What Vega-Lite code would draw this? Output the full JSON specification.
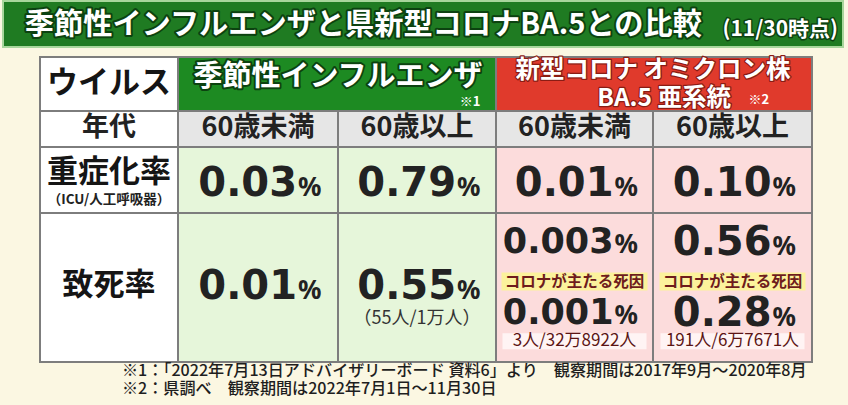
{
  "$schema": "https://vega.github.io/schema/vega-lite/v6.json",
  "width": 848,
  "height": 405,
  "autosize": "none",
  "padding": 0,
  "background": "#fbf7e2",
  "view": {"stroke": null},
  "datasets": {
    "cells": [
      {"k": "title", "x": 0, "x2": 7, "y": 0, "y2": 1},
      {"k": "label", "x": 1, "x2": 2, "y": 2, "y2": 3},
      {"k": "flu", "x": 2, "x2": 4, "y": 2, "y2": 3},
      {"k": "covid", "x": 4, "x2": 6, "y": 2, "y2": 3},
      {"k": "label", "x": 1, "x2": 2, "y": 3, "y2": 4},
      {"k": "age", "x": 2, "x2": 3, "y": 3, "y2": 4},
      {"k": "age", "x": 3, "x2": 4, "y": 3, "y2": 4},
      {"k": "age", "x": 4, "x2": 5, "y": 3, "y2": 4},
      {"k": "age", "x": 5, "x2": 6, "y": 3, "y2": 4},
      {"k": "label", "x": 1, "x2": 2, "y": 4, "y2": 5},
      {"k": "fluCell", "x": 2, "x2": 3, "y": 4, "y2": 5},
      {"k": "fluCell", "x": 3, "x2": 4, "y": 4, "y2": 5},
      {"k": "covidCell", "x": 4, "x2": 5, "y": 4, "y2": 5},
      {"k": "covidCell", "x": 5, "x2": 6, "y": 4, "y2": 5},
      {"k": "label", "x": 1, "x2": 2, "y": 5, "y2": 6},
      {"k": "fluCell", "x": 2, "x2": 3, "y": 5, "y2": 6},
      {"k": "fluCell", "x": 3, "x2": 4, "y": 5, "y2": 6},
      {"k": "covidCell", "x": 4, "x2": 5, "y": 5, "y2": 6},
      {"k": "covidCell", "x": 5, "x2": 6, "y": 5, "y2": 6}
    ],
    "texts": [
      {"s": "title", "t": "季節性インフルエンザと県新型コロナBA.5との比較", "x": 0.59, "y": 0.53},
      {"s": "tsub", "t": "(11/30時点)", "x": 6.84, "y": 0.62},
      {"s": "hg", "t": "季節性インフルエンザ", "x": 3, "y": 2.37},
      {"s": "hr", "t": "新型コロナ オミクロン株", "x": 5, "y": 2.25},
      {"s": "hr", "t": "BA.5 亜系統", "x": 5.07, "y": 2.77},
      {"s": "mk", "t": "※1", "x": 3.77, "y": 2.84},
      {"s": "mk", "t": "※2", "x": 5.6, "y": 2.8},
      {"s": "lb", "t": "ウイルス", "x": 1.5, "y": 2.5},
      {"s": "lb", "t": "重症化率", "x": 1.5, "y": 4.39},
      {"s": "lb", "t": "致死率", "x": 1.5, "y": 5.49},
      {"s": "ag", "t": "年代", "x": 1.5, "y": 3.47},
      {"s": "ag", "t": "60歳未満", "x": 2.5, "y": 3.47},
      {"s": "ag", "t": "60歳以上", "x": 3.5, "y": 3.47},
      {"s": "ag", "t": "60歳未満", "x": 4.5, "y": 3.47},
      {"s": "ag", "t": "60歳以上", "x": 5.5, "y": 3.47},
      {"s": "sub", "t": "（ICU/人工呼吸器）", "x": 1.5, "y": 4.8},
      {"s": "note", "t": "（55人/1万人）", "x": 3.5, "y": 5.71},
      {"s": "cause", "t": "コロナが主たる死因", "x": 4.5, "y": 5.46},
      {"s": "cause", "t": "コロナが主たる死因", "x": 5.5, "y": 5.46},
      {"s": "cnt", "t": "3人/32万8922人", "x": 4.5, "y": 5.86},
      {"s": "cnt", "t": "191人/6万7671人", "x": 5.5, "y": 5.86},
      {"s": "foot", "t": "※1：「2022年7月13日アドバイザリーボード 資料6」より　観察期間は2017年9月～2020年8月", "x": 1.594, "y": 6.21},
      {"s": "foot", "t": "※2：県調べ　観察期間は2022年7月1日～11月30日", "x": 1.594, "y": 6.63}
    ],
    "vals": [
      {"m": "重症化率", "g": "季節性インフルエンザ", "a": "60歳未満", "v": "0.03", "x": 2.5, "y": 4.52},
      {"m": "重症化率", "g": "季節性インフルエンザ", "a": "60歳以上", "v": "0.79", "x": 3.5, "y": 4.52},
      {"m": "重症化率", "g": "新型コロナ", "a": "60歳未満", "v": "0.01", "x": 4.5, "y": 4.52},
      {"m": "重症化率", "g": "新型コロナ", "a": "60歳以上", "v": "0.10", "x": 5.5, "y": 4.52},
      {"m": "致死率", "g": "季節性インフルエンザ", "a": "60歳未満", "v": "0.01", "x": 2.5, "y": 5.48},
      {"m": "致死率", "g": "季節性インフルエンザ", "a": "60歳以上", "v": "0.55", "x": 3.5, "y": 5.48},
      {"m": "致死率", "g": "新型コロナ", "a": "60歳未満", "v": "0.003", "x": 4.5, "y": 5.185},
      {"m": "致死率", "g": "新型コロナ", "a": "60歳以上", "v": "0.56", "x": 5.5, "y": 5.185},
      {"m": "コロナが主たる死因", "g": "新型コロナ", "a": "60歳未満", "v": "0.001", "x": 4.5, "y": 5.66},
      {"m": "コロナが主たる死因", "g": "新型コロナ", "a": "60歳以上", "v": "0.28", "x": 5.5, "y": 5.66}
    ]
  },
  "encoding": {
    "x": {
      "field": "x",
      "type": "quantitative",
      "axis": null,
      "scale": {"domain": [0, 1, 2, 3, 4, 5, 6, 7], "range": [3, 40, 178, 338, 496, 653, 812, 843], "zero": false, "nice": false}
    },
    "y": {
      "field": "y",
      "type": "quantitative",
      "axis": null,
      "scale": {"domain": [0, 1, 2, 3, 4, 5, 6, 7], "range": [1, 47, 57, 111, 147, 213, 362, 405], "zero": false, "nice": false}
    }
  },
  "layer": [
    {
      "data": {"name": "cells"},
      "transform": [{"filter": "datum.k == 'title'"}],
      "mark": {"type": "rect", "fill": "#1f7b22", "stroke": "#a8d69c", "strokeWidth": 2},
      "encoding": {"x2": {"field": "x2"}, "y2": {"field": "y2"}}
    },
    {
      "data": {"name": "cells"},
      "transform": [{"filter": "datum.k != 'title'"}],
      "mark": {"type": "rect", "stroke": "#7d7d7d", "strokeWidth": 2},
      "encoding": {
        "x2": {"field": "x2"},
        "y2": {"field": "y2"},
        "color": {
          "field": "k",
          "type": "nominal",
          "legend": null,
          "scale": {
            "domain": ["label", "flu", "covid", "age", "fluCell", "covidCell"],
            "range": ["#ffffff", "#1d8a22", "#e03a2c", "#e6e6e6", "#e6f6da", "#fcdcdc"]
          }
        }
      }
    },
    {
      "data": {"name": "texts"},
      "transform": [{"filter": "datum.s == 'cause'"}],
      "mark": {"type": "rect", "fill": "#fcf29c", "xOffset": -73, "x2Offset": 73, "yOffset": -9, "y2Offset": 9},
      "encoding": {"x2": {"field": "x"}, "y2": {"field": "y"}}
    },
    {
      "data": {"name": "texts"},
      "transform": [{"filter": "datum.s == 'cnt'"}],
      "mark": {"type": "rect", "fill": "#fff4f4", "xOffset": -72, "x2Offset": 72, "yOffset": -8, "y2Offset": 8},
      "encoding": {"x2": {"field": "x"}, "y2": {"field": "y"}}
    },
    {
      "data": {"name": "texts"},
      "transform": [{"filter": "datum.s == 'title'"}],
      "mark": {"type": "text", "align": "left", "baseline": "middle", "font": "Noto Sans CJK JP", "fontWeight": "bold", "fontSize": 29.2, "fill": "#0c4210", "stroke": "#0c4210", "strokeWidth": 4, "strokeJoin": "round"},
      "encoding": {"text": {"field": "t"}}
    },
    {
      "data": {"name": "texts"},
      "transform": [{"filter": "datum.s == 'title'"}],
      "mark": {"type": "text", "align": "left", "baseline": "middle", "font": "Noto Sans CJK JP", "fontWeight": "bold", "fontSize": 29.2, "fill": "#ffffff"},
      "encoding": {"text": {"field": "t"}}
    },
    {
      "data": {"name": "texts"},
      "transform": [{"filter": "datum.s == 'tsub'"}],
      "mark": {"type": "text", "align": "right", "baseline": "middle", "font": "Noto Sans CJK JP", "fontWeight": "bold", "fontSize": 21, "fill": "#0c4210", "stroke": "#0c4210", "strokeWidth": 3, "strokeJoin": "round"},
      "encoding": {"text": {"field": "t"}}
    },
    {
      "data": {"name": "texts"},
      "transform": [{"filter": "datum.s == 'tsub'"}],
      "mark": {"type": "text", "align": "right", "baseline": "middle", "font": "Noto Sans CJK JP", "fontWeight": "bold", "fontSize": 21, "fill": "#ffffff"},
      "encoding": {"text": {"field": "t"}}
    },
    {
      "data": {"name": "texts"},
      "transform": [{"filter": "datum.s == 'hg'"}],
      "mark": {"type": "text", "align": "center", "baseline": "middle", "font": "Noto Sans CJK JP", "fontWeight": "bold", "fontSize": 29, "fill": "#0c4210", "stroke": "#0c4210", "strokeWidth": 4, "strokeJoin": "round"},
      "encoding": {"text": {"field": "t"}}
    },
    {
      "data": {"name": "texts"},
      "transform": [{"filter": "datum.s == 'hg'"}],
      "mark": {"type": "text", "align": "center", "baseline": "middle", "font": "Noto Sans CJK JP", "fontWeight": "bold", "fontSize": 29, "fill": "#ffffff"},
      "encoding": {"text": {"field": "t"}}
    },
    {
      "data": {"name": "texts"},
      "transform": [{"filter": "datum.s == 'hr'"}],
      "mark": {"type": "text", "align": "center", "baseline": "middle", "font": "Noto Sans CJK JP", "fontWeight": "bold", "fontSize": 24.5, "fill": "#8a1c14", "stroke": "#8a1c14", "strokeWidth": 2.5, "strokeJoin": "round"},
      "encoding": {"text": {"field": "t"}}
    },
    {
      "data": {"name": "texts"},
      "transform": [{"filter": "datum.s == 'hr'"}],
      "mark": {"type": "text", "align": "center", "baseline": "middle", "font": "Noto Sans CJK JP", "fontWeight": "bold", "fontSize": 24.5, "fill": "#ffffff"},
      "encoding": {"text": {"field": "t"}}
    },
    {
      "data": {"name": "texts"},
      "transform": [{"filter": "datum.s == 'mk'"}],
      "mark": {"type": "text", "align": "left", "baseline": "middle", "font": "Noto Sans CJK JP", "fontWeight": "bold", "fontSize": 13, "fill": "#ffffff"},
      "encoding": {"text": {"field": "t"}}
    },
    {
      "data": {"name": "texts"},
      "transform": [{"filter": "datum.s == 'lb'"}],
      "mark": {"type": "text", "align": "center", "baseline": "middle", "font": "Noto Sans CJK JP", "fontWeight": "bold", "fontSize": 31, "fill": "#151515"},
      "encoding": {"text": {"field": "t"}}
    },
    {
      "data": {"name": "texts"},
      "transform": [{"filter": "datum.s == 'ag'"}],
      "mark": {"type": "text", "align": "center", "baseline": "middle", "font": "Noto Sans CJK JP", "fontWeight": "bold", "fontSize": 27, "fill": "#222222"},
      "encoding": {"text": {"field": "t"}}
    },
    {
      "data": {"name": "texts"},
      "transform": [{"filter": "datum.s == 'sub'"}],
      "mark": {"type": "text", "align": "center", "baseline": "middle", "font": "Noto Sans CJK JP", "fontWeight": "bold", "fontSize": 13.5, "fill": "#222222"},
      "encoding": {"text": {"field": "t"}}
    },
    {
      "data": {"name": "texts"},
      "transform": [{"filter": "datum.s == 'note'"}],
      "mark": {"type": "text", "align": "center", "baseline": "middle", "font": "Noto Sans CJK JP", "fontSize": 18, "fill": "#333333"},
      "encoding": {"text": {"field": "t"}}
    },
    {
      "data": {"name": "texts"},
      "transform": [{"filter": "datum.s == 'cause'"}],
      "mark": {"type": "text", "align": "center", "baseline": "middle", "font": "Noto Sans CJK JP", "fontWeight": "bold", "fontSize": 15.5, "fill": "#6e1c1c"},
      "encoding": {"text": {"field": "t"}}
    },
    {
      "data": {"name": "texts"},
      "transform": [{"filter": "datum.s == 'cnt'"}],
      "mark": {"type": "text", "align": "center", "baseline": "middle", "font": "Noto Sans CJK JP", "fontSize": 17, "fill": "#5c1414"},
      "encoding": {"text": {"field": "t"}}
    },
    {
      "data": {"name": "texts"},
      "transform": [{"filter": "datum.s == 'foot'"}],
      "mark": {"type": "text", "align": "left", "baseline": "middle", "font": "Noto Sans CJK JP", "fontWeight": 500, "fontSize": 16.1, "fill": "#1e1e1e"},
      "encoding": {"text": {"field": "t"}}
    },
    {
      "data": {"name": "vals"},
      "transform": [{"filter": "length(datum.v) == 4"}],
      "mark": {"type": "text", "align": "right", "baseline": "alphabetic", "dx": 39, "dy": 14.6, "font": "DejaVu Sans", "fontWeight": "bold", "fontSize": 40, "fill": "#222222"},
      "encoding": {"text": {"field": "v"}}
    },
    {
      "data": {"name": "vals"},
      "transform": [{"filter": "length(datum.v) == 5"}],
      "mark": {"type": "text", "align": "right", "baseline": "alphabetic", "dx": 39, "dy": 12.8, "font": "DejaVu Sans", "fontWeight": "bold", "fontSize": 35, "fill": "#222222"},
      "encoding": {"text": {"field": "v"}}
    },
    {
      "data": {"name": "vals"},
      "transform": [{"filter": "length(datum.v) == 4"}],
      "mark": {"type": "text", "align": "left", "baseline": "alphabetic", "dx": 40, "dy": 14.6, "font": "Noto Sans", "fontWeight": "bold", "fontSize": 26, "fill": "#222222"},
      "encoding": {"text": {"value": "%"}}
    },
    {
      "data": {"name": "vals"},
      "transform": [{"filter": "length(datum.v) == 5"}],
      "mark": {"type": "text", "align": "left", "baseline": "alphabetic", "dx": 40, "dy": 12.8, "font": "Noto Sans", "fontWeight": "bold", "fontSize": 26, "fill": "#222222"},
      "encoding": {"text": {"value": "%"}}
    }
  ]
}
